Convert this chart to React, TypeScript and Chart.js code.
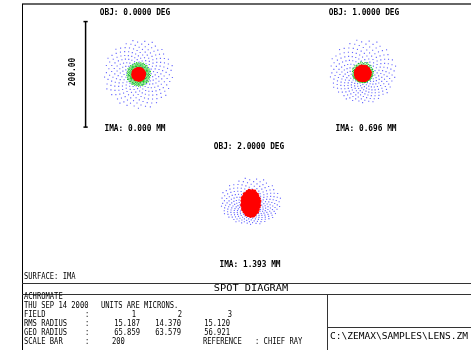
import React, { useEffect, useRef } from "react";
import { Chart, registerables } from "chart.js";

Chart.register(...registerables);

// ---- data ----
const fieldNumbers = [1, 2, 3];
const objAngles = ["0.0000", "1.0000", "2.0000"];
const imaHeights = ["0.000", "0.696", "1.393"];
const rmsRadius = ["15.187", "14.370", "15.120"];
const geoRadius = ["65.859", "63.579", "56.921"];
const scaleBar = 200; // microns
const waveColors = ["rgba(40,40,255,0.7)", "rgba(0,200,0,0.9)", "rgb(255,0,0)"];
const waveRadius = [0.8, 0.8, 1.3];
// aberration coefficients (microns) per field [blue, green, red]
const defocusX = [[50, 18, 9], [48, 15, 11], [44, 11, 14]];
const defocusY = [[50, 18, 9], [46, 15, 11], [32, 16, 22]];
const spherical = [[16, 5, 3], [15, 5, 4], [13, 3, 4]];
const coma = [[0, 0, 0], [3, 2, 1], [3, 1, 1]];
const rayCount = 280;

// ---- layout ----
const W = 471, H = 350;
const pxPerUm = 0.54;
const centers = [[137, 72], [365, 72], [251, 205]];

// deterministic pupil sampling (Fibonacci / sunflower pattern)
function pupilSamples() {
  const pts: { px: number; py: number }[] = [];
  const ga = Math.PI * (3 - Math.sqrt(5));
  for (let k = 0; k < rayCount; k++) {
    const r = Math.sqrt((k + 0.5) / rayCount);
    const t = k * ga;
    pts.push({ px: r * Math.cos(t), py: r * Math.sin(t) });
  }
  return pts;
}

function spot(f: number, w: number) {
  const pts = pupilSamples();
  return pts.map(({ px, py }) => {
    const r2 = px * px + py * py;
    const S = spherical[f][w];
    const C = coma[f][w];
    return {
      x: px * (defocusX[f][w] + S * r2) + C * 2 * px * py,
      y: py * (defocusY[f][w] + S * r2) + C * (px * px + 3 * py * py - 1),
    };
  });
}

function drawText(ctx: CanvasRenderingContext2D, text: string, x: number, y: number, align: CanvasTextAlign, charW: number, bold = false) {
  ctx.save();
  ctx.font = (bold ? "bold " : "") + '9px "DejaVu Sans Mono"';
  const w = ctx.measureText(text).width;
  const sx = (charW * text.length) / w;
  ctx.translate(x, y);
  ctx.scale(sx, 1);
  ctx.textAlign = align;
  ctx.textBaseline = "middle";
  ctx.fillStyle = "#000";
  ctx.fillText(text, 0, 0);
  ctx.restore();
}

const framePlugin = {
  id: "zemaxFrame",
  afterDraw(chart: any) {
    const ctx: CanvasRenderingContext2D = chart.ctx;
    ctx.save();
    const line = (x1: number, y1: number, x2: number, y2: number, c: string) => {
      ctx.beginPath();
      ctx.strokeStyle = c;
      ctx.lineWidth = 1;
      ctx.moveTo(x1, y1);
      ctx.lineTo(x2, y2);
      ctx.stroke();
    };
    ctx.fillStyle = "#666";
    ctx.fillRect(22, 3, W - 22, 2);
    line(22.5, 4, 22.5, H, "#000");
    line(22, 283.5, W, 283.5, "#333");
    line(22, 294.5, W, 294.5, "#333");
    line(327.5, 294, 327.5, H, "#333");
    line(327, 327.5, W, 327.5, "#333");

    const topW = 4.7;
    const objPos = [[135, 13], [364, 13], [249, 147]];
    const imaPos = [[135, 129], [366, 129], [250, 265]];
    for (let i = 0; i < 3; i++) {
      drawText(ctx, `OBJ: ${objAngles[i]} DEG`, objPos[i][0], objPos[i][1], "center", topW, true);
      drawText(ctx, `IMA: ${imaHeights[i]} MM`, imaPos[i][0], imaPos[i][1], "center", topW, true);
    }
    // scale bar label
    ctx.save();
    ctx.translate(73, 72);
    ctx.rotate(-Math.PI / 2);
    drawText(ctx, scaleBar.toFixed(2), 0, 0, "center", topW, true);
    ctx.restore();

    drawText(ctx, "SURFACE: IMA", 24, 277, "left", 4.3);
    drawText(ctx, "SPOT DIAGRAM", 251, 289, "center", 6.2);

    const bw = 4.3;
    const rows = [297, 306, 315, 324, 333, 342];
    drawText(ctx, "ACHROMATE", 24, rows[0], "left", bw);
    drawText(ctx, "THU SEP 14 2000", 24, rows[1], "left", bw);
    drawText(ctx, "UNITS ARE MICRONS.", 101, rows[1], "left", bw);
    const labels = ["FIELD", "RMS RADIUS", "GEO RADIUS", "SCALE BAR"];
    labels.forEach((l, k) => {
      drawText(ctx, l, 24, rows[2 + k], "left", bw);
      drawText(ctx, ":", 85, rows[2 + k], "left", bw);
    });
    const colEnd = [140, 181, 230];
    const fieldEnd = [136, 182, 232];
    for (let i = 0; i < 3; i++) {
      drawText(ctx, String(fieldNumbers[i]), fieldEnd[i], rows[2], "right", bw);
      drawText(ctx, rmsRadius[i], colEnd[i], rows[3], "right", bw);
      drawText(ctx, geoRadius[i], colEnd[i], rows[4], "right", bw);
    }
    drawText(ctx, String(scaleBar), 112, rows[5], "left", bw);
    drawText(ctx, "REFERENCE", 203, rows[5], "left", bw);
    drawText(ctx, ": CHIEF RAY", 255, rows[5], "left", bw);
    drawText(ctx, "C:\\ZEMAX\\SAMPLES\\LENS.ZM", 330, 337, "left", 5.75);
    ctx.restore();
  },
};

export default function App() {
  const ref = useRef<HTMLCanvasElement>(null);
  useEffect(() => {
    document.body.style.margin = "0";
    const scales: any = {};
    centers.forEach(([cx, cy], f) => {
      scales["x" + f] = { type: "linear", display: false, min: -cx / pxPerUm, max: (W - cx) / pxPerUm };
      scales["y" + f] = { type: "linear", display: false, min: -(H - cy) / pxPerUm, max: cy / pxPerUm };
    });
    const datasets: any[] = [];
    for (let f = 0; f < 3; f++) {
      for (let w = 0; w < 3; w++) {
        datasets.push({
          data: spot(f, w),
          xAxisID: "x" + f,
          yAxisID: "y" + f,
          order: 10 - w,
          pointStyle: w === 2 ? "circle" : "rect",
          pointRadius: waveRadius[w],
          pointBorderWidth: 0,
          backgroundColor: waveColors[w],
          borderColor: waveColors[w],
          showLine: false,
        });
      }
    }
    const half = scaleBar / 2;
    const tick = 4;
    const barSegs = [
      [{ x: -half, y: -half }, { x: -half, y: half }],
      [{ x: -half - tick, y: half }, { x: -half + tick, y: half }],
      [{ x: -half - tick, y: -half }, { x: -half + tick, y: -half }],
    ];
    barSegs.forEach((seg) =>
      datasets.push({
        data: seg,
        xAxisID: "x0",
        yAxisID: "y0",
        order: 0,
        showLine: true,
        borderColor: "#000",
        borderWidth: 1.5,
        pointRadius: 0,
      })
    );
    const chart = new Chart(ref.current!, {
      type: "scatter",
      data: { datasets },
      options: {
        animation: false,
        responsive: false,
        layout: { padding: 0 },
        scales,
        plugins: { legend: { display: false }, tooltip: { enabled: false } },
      },
      plugins: [framePlugin],
    });
    return () => chart.destroy();
  }, []);
  return (
    <div style={{ position: "absolute", left: 0, top: 0, width: W, height: H, background: "#fff" }}>
      <canvas ref={ref} width={W} height={H} style={{ width: W, height: H }} />
    </div>
  );
}
